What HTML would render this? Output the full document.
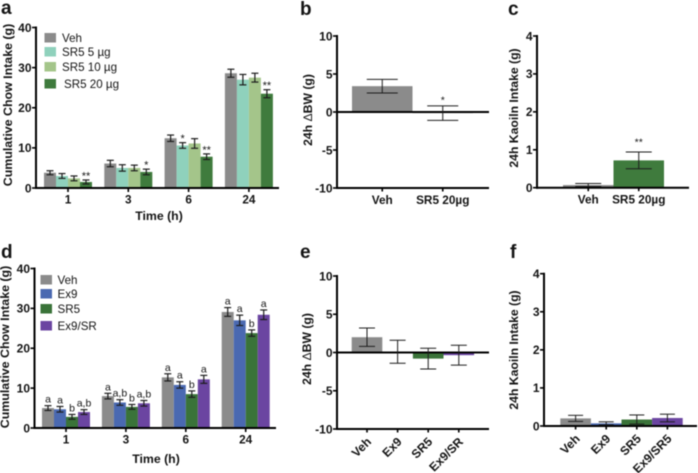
<!DOCTYPE html>
<html lang="en">
<head>
<meta charset="utf-8">
<title>Chow intake, body weight and kaolin intake panels</title>
<style>
html,body{margin:0;padding:0;background:#fff;width:698px;height:473px;overflow:hidden}
svg{display:block;filter:blur(0.45px)}
text{font-family:"Liberation Sans",sans-serif;fill:#141414}
.b{font-weight:bold}
.thin{font-weight:normal}
</style>
</head>
<body>
<svg id="fig" width="698" height="473" viewBox="0 0 698 473" xmlns="http://www.w3.org/2000/svg"></svg>
<script>
const timeCategories = ['1', '3', '6', '24'];

const aSeriesNames = ['Veh', 'SR5 5 µg', 'SR5 10 µg', 'SR5 20 µg'];
const aVeh = [3.8, 6.1, 12.4, 28.6];
const aVehErr = [0.5, 0.8, 0.8, 1.0];
const aSr5 = [3.0, 5.0, 10.6, 27.0];
const aSr5Err = [0.6, 0.8, 0.7, 1.3];
const aSr10 = [2.4, 5.0, 11.1, 27.5];
const aSr10Err = [0.6, 0.7, 1.2, 1.1];
const aSr20 = [1.5, 4.0, 7.8, 23.5];
const aSr20Err = [0.5, 0.7, 0.7, 1.0];
const aNotes = [['', '', '', ''], ['', '', '*', ''], ['', '', '', ''], ['**', '*', '**', '**']];

const dSeriesNames = ['Veh', 'Ex9', 'SR5', 'Ex9/SR'];
const dVeh = [5.0, 8.0, 12.7, 29.1];
const dVehErr = [0.6, 0.7, 0.9, 1.1];
const dEx9 = [4.7, 6.4, 10.8, 27.0];
const dEx9Err = [0.7, 0.7, 0.8, 1.3];
const dSr5 = [2.8, 5.3, 8.5, 23.8];
const dSr5Err = [0.6, 0.6, 0.8, 0.8];
const dCombo = [4.0, 6.2, 12.2, 28.4];
const dComboErr = [0.6, 0.7, 1.0, 1.2];
const dNotes = [['a', 'a', 'a', 'a'], ['a', 'a,b', 'a', 'a'], ['b', 'b', 'b', 'b'], ['a,b', 'a,b', 'a', 'a']];

const chowTicks = [0, 10, 20, 30, 40];
const bwTicks = [-10, -5, 0, 5, 10];
const kaolinTicks = [0, 1, 2, 3, 4];

const bCategories = ['Veh', 'SR5 20µg'];
const bValues = [3.4, -0.15];
const bErrors = [0.9, 0.95];
const bNotes = ['', '*'];

const cCategories = ['Veh', 'SR5 20µg'];
const cValues = [0.07, 0.72];
const cErrors = [0.04, 0.22];
const cNotes = ['', '**'];

const eCategories = ['Veh', 'Ex9', 'SR5', 'Ex9/SR'];
const eValues = [2.0, 0.1, -0.8, -0.35];
const eErrors = [1.2, 1.5, 1.35, 1.3];

const fCategories = ['Veh', 'Ex9', 'SR5', 'Ex9/SR5'];
const fValues = [0.2, 0.07, 0.17, 0.21];
const fErrors = [0.08, 0.04, 0.12, 0.1];

const GRAY = '#8b8b8b', TEAL = '#8fd1bc', LIGHT = '#a4c58a', DARK = '#3f7b3d', BLUE = '#4a69b1', DGREEN = '#3a7339', PURPLE = '#6b45a1';
const svg = document.getElementById('fig');
const NS = 'http://www.w3.org/2000/svg';

function shape(tag, attrs, parent) {
  const el = document.createElementNS(NS, tag);
  for (const k in attrs) el.setAttribute(k, attrs[k]);
  (parent || svg).appendChild(el);
  return el;
}
function label(str, x, y, size, bold, anchor, rotate, parent) {
  const el = shape('text', { x: x, y: y, 'font-size': size, 'text-anchor': anchor || 'middle' }, parent);
  if (bold) el.setAttribute('class', 'b');
  if (rotate) el.setAttribute('transform', 'rotate(' + rotate + ' ' + x + ' ' + y + ')');
  str.split('Δ').forEach((part, i) => {
    if (i > 0) {
      const d = shape('tspan', { class: 'thin' }, el);
      d.textContent = 'Δ';
    }
    const p = shape('tspan', {}, el);
    p.textContent = part;
  });
  return el;
}
function line(x1, y1, x2, y2, w, color, parent) {
  return shape('line', { x1: x1, y1: y1, x2: x2, y2: y2, stroke: color || '#000', 'stroke-width': w }, parent);
}
function scale(min, max, top, bottom) {
  return v => bottom - (v - min) / (max - min) * (bottom - top);
}

function panelLetter(ch, x, y) {
  const el = label(ch, x, y, 19, true, 'start');
  
  
}

function yAxis(g, ticks, y, axisX, top, bottom, name) {
  const ax = line(axisX, top - 1, axisX, bottom + 1, 2, '#000', g);
  
  
  ticks.forEach(t => {
    const tk = line(axisX - 4, y(t), axisX, y(t), 1.6, '#000', g);
    
    
    const lb = label(String(t), axisX - 4.5, y(t) + 4.3, 12, true, 'end', 0, g);
    
    
  });
}

function errorBar(g, cx, yHigh, yLow, capHalf, w, name) {
  const s = line(cx, yHigh, cx, yLow, w, '#1c1c1c', g);
  
  
  const c1 = line(cx - capHalf, yHigh, cx + capHalf, yHigh, w, '#1c1c1c', g);
  
  
  const c2 = line(cx - capHalf, yLow, cx + capHalf, yLow, w, '#1c1c1c', g);
  
  
}

function drawGrouped(cfg) {
  const g = shape('g', {});
  
  
  const y = scale(0, 40, cfg.top, cfg.bottom);
  cfg.series.forEach((vals, s) => {
    vals.forEach((v, i) => {
      const x = cfg.firstX + i * cfg.groupStep + s * cfg.barW;
      const bar = shape('rect', { x: x, y: y(v), width: cfg.barW, height: cfg.bottom - y(v), fill: cfg.colors[s] }, g);
      
      
      const cx = x + cfg.barW / 2, e = cfg.errors[s][i];
      errorBar(g, cx, y(v + e), y(v - e), 3.5, 1.2, cfg.name);
      const note = cfg.notes[s][i];
      if (note) {
        const star = note.indexOf('*') >= 0;
        const n = label(note, cx, y(v + e) - (star ? 0.5 : 3), star ? 11 : 10.5, false, 'middle', 0, g);
        
        
      }
    });
  });
  yAxis(g, chowTicks, y, cfg.axisX, cfg.top, cfg.bottom, cfg.name);
  const xa = line(cfg.axisX - 1, cfg.bottom, cfg.endX, cfg.bottom, 2, '#000', g);
  
  
  timeCategories.forEach((c, i) => {
    const cx = cfg.firstX + i * cfg.groupStep + 2 * cfg.barW;
    const tk = line(cx, cfg.bottom, cx, cfg.bottom + 4, 1.6, '#000', g);
    
    
    const lb = label(c, cx, cfg.bottom + 15.5, 11.8, true, 'middle', 0, g);
    
    
  });
  const xt = label('Time (h)', cfg.xTitleX, cfg.xTitleY, 12.3, true, 'middle', 0, g);
  
  
  const yt = label('Cumulative Chow Intake (g)', cfg.yTitleX, cfg.yTitleY, 12.4, true, 'middle', -90, g);
  
  
  cfg.seriesNames.forEach((nm, i) => {
    const sw = shape('rect', { x: cfg.legendX, y: cfg.legendY[i], width: 11.5, height: 9.5, fill: cfg.colors[i] }, g);
    
    
    const t = label(nm, cfg.legendTextX[i], cfg.legendY[i] + 9, 11.6, false, 'start', 0, g);
    
    
  });
}

function drawSimple(cfg) {
  const g = shape('g', {});
  
  
  const y = scale(cfg.min, cfg.max, cfg.top, cfg.bottom);
  const zero = y(0);
  cfg.values.forEach((v, i) => {
    const x = cfg.firstX + i * cfg.barW;
    const bar = shape('rect', { x: x, y: Math.min(y(v), zero), width: cfg.barW, height: Math.abs(y(v) - zero), fill: cfg.colors[i] }, g);
    
    
  });
  yAxis(g, cfg.ticks, y, cfg.axisX, cfg.top, cfg.bottom, cfg.name);
  const za = line(cfg.axisX - 1, zero, cfg.endX, zero, 2, '#000', g);
  
  
  if (cfg.min < 0) {
    const ba = line(cfg.axisX - 1, cfg.bottom, cfg.endX, cfg.bottom, 2, '#000', g);
    
    
  }
  cfg.values.forEach((v, i) => {
    const cx = cfg.firstX + (i + 0.5) * cfg.barW, e = cfg.errors[i];
    errorBar(g, cx, y(v + e), y(v - e), cfg.capHalf, 1, cfg.name);
    const note = cfg.notes && cfg.notes[i];
    if (note) {
      const n = label(note, cx, y(v + e) - cfg.noteGap, 10.5, false, 'middle', 0, g);
      
      
    }
    const tk = line(cx, cfg.bottom, cx, cfg.bottom + 3.5, 1.6, '#000', g);
    
    
    const lb = cfg.rotated
      ? label(cfg.categories[i], cx + 5, cfg.bottom + 13.5, 12.2, true, 'end', -45, g)
      : label(cfg.categories[i], cx, cfg.bottom + 16, 11.8, true, 'middle', 0, g);
    
    
  });
  const yt = label(cfg.title, cfg.yTitleX, cfg.yTitleY, 12.2, true, 'middle', -90, g);
  
  
}

panelLetter('a', 1, 14);
panelLetter('b', 300, 15);
panelLetter('c', 508, 15);
panelLetter('d', 1, 258);
panelLetter('e', 300, 258);
panelLetter('f', 510, 258);

drawGrouped({
  name: 'panel-a', seriesNames: aSeriesNames,
  series: [aVeh, aSr5, aSr10, aSr20], errors: [aVehErr, aSr5Err, aSr10Err, aSr20Err], notes: aNotes,
  colors: [GRAY, TEAL, LIGHT, DARK],
  firstX: 44, groupStep: 60.3, barW: 12, top: 27.5, bottom: 188, axisX: 36, endX: 279,
  xTitleX: 159, xTitleY: 220, yTitleX: 12, yTitleY: 105,
  legendX: 44.5, legendY: [33, 47, 62, 79], legendTextX: [62, 62, 62, 64]
});
drawGrouped({
  name: 'panel-d', seriesNames: dSeriesNames,
  series: [dVeh, dEx9, dSr5, dCombo], errors: [dVehErr, dEx9Err, dSr5Err, dComboErr], notes: dNotes,
  colors: [GRAY, BLUE, DGREEN, PURPLE],
  firstX: 42, groupStep: 59.9, barW: 12, top: 268.5, bottom: 428, axisX: 34.5, endX: 276,
  xTitleX: 156, xTitleY: 463, yTitleX: 9, yTitleY: 347,
  legendX: 40.5, legendY: [275, 289, 304, 321], legendTextX: [57.5, 57.5, 57.5, 57.5]
});
drawSimple({
  name: 'panel-b', categories: bCategories, values: bValues, errors: bErrors, notes: bNotes, noteGap: 2.5,
  colors: [GRAY, GRAY], ticks: bwTicks, min: -10, max: 10, top: 36, bottom: 188,
  firstX: 352, barW: 60.5, axisX: 337, endX: 489, capHalf: 15.5,
  title: '24h ΔBW (g)', yTitleX: 312, yTitleY: 110
});
drawSimple({
  name: 'panel-c', categories: cCategories, values: cValues, errors: cErrors, notes: cNotes, noteGap: 6.5,
  colors: [GRAY, DARK], ticks: kaolinTicks, min: 0, max: 4, top: 36, bottom: 187.7,
  firstX: 563, barW: 50.5, axisX: 537, endX: 689, capHalf: 13,
  title: '24h Kaoiln Intake (g)', yTitleX: 518, yTitleY: 108
});
drawSimple({
  name: 'panel-e', categories: eCategories, values: eValues, errors: eErrors,
  colors: [GRAY, BLUE, DGREEN, PURPLE], ticks: bwTicks, min: -10, max: 10, top: 276, bottom: 429,
  firstX: 351.7, barW: 30.6, axisX: 337, endX: 489, capHalf: 8, rotated: true,
  title: '24h ΔBW (g)', yTitleX: 311, yTitleY: 349
});
drawSimple({
  name: 'panel-f', categories: fCategories, values: fValues, errors: fErrors,
  colors: [GRAY, BLUE, DGREEN, PURPLE], ticks: kaolinTicks, min: 0, max: 4, top: 273.7, bottom: 426,
  firstX: 560.3, barW: 30.6, axisX: 544, endX: 697, capHalf: 7.5, rotated: true,
  title: '24h Kaoiln Intake (g)', yTitleX: 518, yTitleY: 350
});
</script>
</body>
</html>
